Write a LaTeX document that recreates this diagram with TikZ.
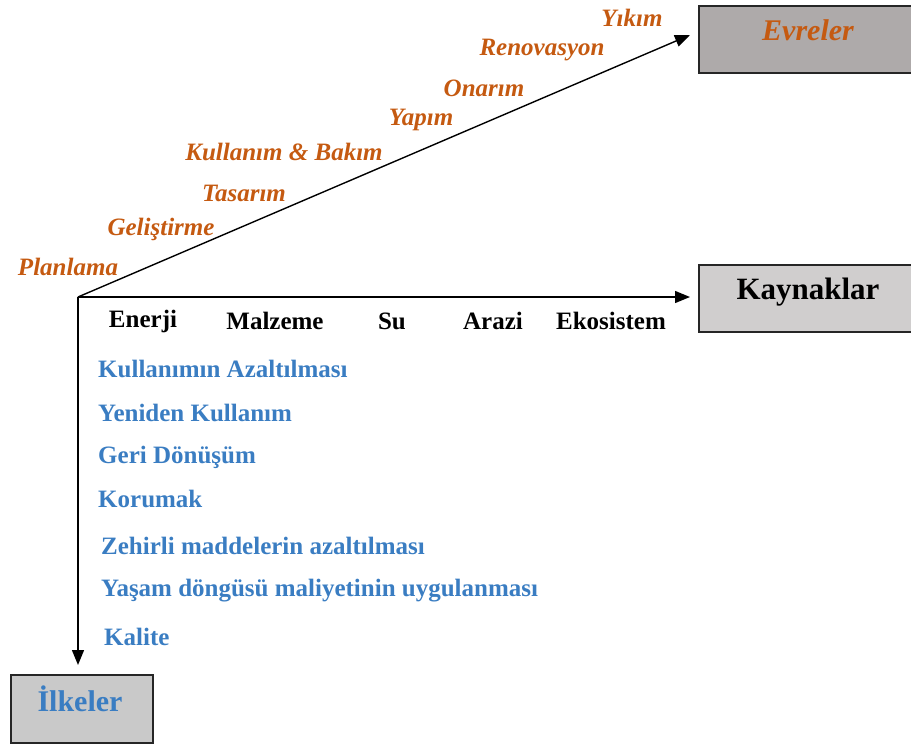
\documentclass[tikz,border=0pt]{standalone}
\usepackage{fontspec}
\setmainfont{Liberation Serif}
\usetikzlibrary{arrows.meta}
\definecolor{phaseorange}{HTML}{C55A11}
\definecolor{rulesblue}{HTML}{3A7DC2}
\definecolor{boxdark}{HTML}{AEAAAA}
\definecolor{boxlight}{HTML}{D0CECE}
\definecolor{boxgrey}{HTML}{C9C9C9}
\tikzset{
  axis/.style={line width=1.4pt,-{Triangle[length=15pt,width=12pt]}},
  box/.style={draw=black!85,line width=1.8pt,minimum width=#1,inner sep=0pt},
  phase/.style={text=phaseorange,font=\fontsize{25}{28}\selectfont\bfseries\itshape,inner sep=0pt},
  resource/.style={font=\fontsize{25}{28}\selectfont\bfseries,inner sep=0pt},
  rule/.style={text=rulesblue,anchor=west,font=\fontsize{25}{28}\selectfont\bfseries,inner sep=0pt},
}
\begin{document}
\begin{tikzpicture}[x=1pt,y=-1pt]
\useasboundingbox (0,0) rectangle (911,745);

% boxes
\node[box=213pt,minimum height=67pt,fill=boxdark,anchor=north west] (evreler) at (698,5) {};
\node[text=phaseorange,font=\fontsize{30}{32}\selectfont\bfseries\itshape] (evrelerT) at (808,30) {Evreler};
\node[box=213pt,minimum height=67pt,fill=boxlight,anchor=north west] (kaynaklar) at (698,264) {};
\node[font=\fontsize{31}{33}\selectfont\bfseries] (kaynaklarT) at (808,292) {Kaynaklar};
\node[box=142pt,minimum height=68pt,fill=boxgrey,anchor=north west] (ilkeler) at (10,674) {};
\node[text=rulesblue,font=\fontsize{30}{32}\selectfont\bfseries] (ilkelerT) at (80,699) {İlkeler};

% axes
\coordinate (O) at (78,297);
\coordinate (tipE) at (690,35);
\coordinate (tipK) at (690,297);
\coordinate (tipI) at (78,665);
\draw[axis] (O) -- (tipE);
\draw[axis] (O) -- (tipK);
\draw[axis] (O) -- (tipI);

% phases
\node[phase] (p1) at (68,267) {Planlama};
\node[phase] (p2) at (161,229) {Geliştirme};
\node[phase] (p3) at (244,193) {Tasarım};
\node[phase] (p4) at (284,152) {Kullanım \& Bakım};
\node[phase] (p5) at (421,120) {Yapım};
\node[phase] (p6) at (484,88) {Onarım};
\node[phase] (p7) at (542,50) {Renovasyon};
\node[phase] (p8) at (632,18) {Yıkım};

% resources
\node[resource] (r1) at (143,321) {Enerji};
\node[resource] (r2) at (275,321) {Malzeme};
\node[resource] (r3) at (392,321) {Su};
\node[resource] (r4) at (493,321) {Arazi};
\node[resource] (r5) at (611,321) {Ekosistem};

% principles
\node[rule] (i1) at (98,369) {Kullanımın Azaltılması};
\node[rule] (i2) at (98,413) {Yeniden Kullanım};
\node[rule] (i3) at (98,457) {Geri Dönüşüm};
\node[rule] (i4) at (98,499) {Korumak};
\node[rule] (i5) at (101,546) {Zehirli maddelerin azaltılması};
\node[rule] (i6) at (101,591) {Yaşam döngüsü maliyetinin uygulanması};
\node[rule] (i7) at (104,637) {Kalite};
\end{tikzpicture}
\end{document}
